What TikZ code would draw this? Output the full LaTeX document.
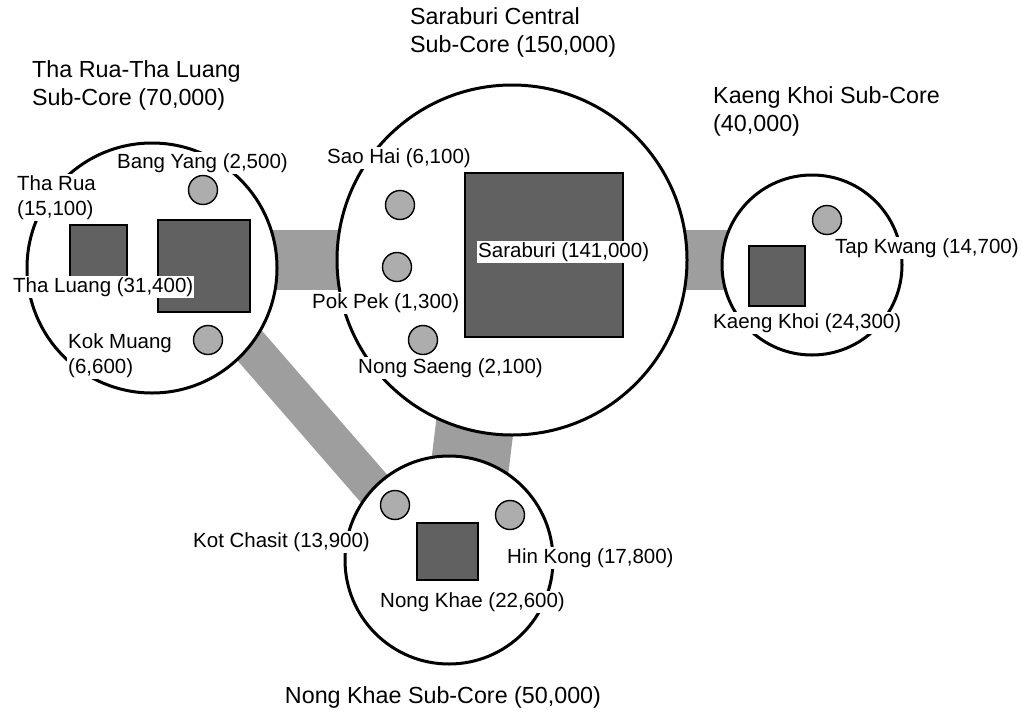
\documentclass[tikz,border=0pt]{standalone}
\usepackage{fontspec}
\setmainfont{Liberation Sans}
\begin{document}
\begin{tikzpicture}[x=1pt,y=-1pt,
  core/.style={circle, draw=black, line width=3pt, fill=white, inner sep=0pt},
  band/.style={draw=black!38, line cap=butt},
  town/.style={circle, draw=black, line width=1.4pt, fill=black!32, minimum size=29pt, inner sep=0pt},
  city/.style={rectangle, draw=black, line width=1.2pt, fill=black!62, inner sep=0pt},
  lbl/.style={font=\fontsize{20.5}{25}\selectfont, fill=white, inner sep=1pt, align=left, anchor=west},
  ttl/.style={font=\fontsize{23.3}{28}\selectfont, inner sep=0pt, align=left, anchor=west},
]
\useasboundingbox[fill=white] (0,0) rectangle (1022,715);

% band end points
\coordinate (lm1) at (250,260);
\coordinate (lm2) at (362,260);
\coordinate (mr1) at (660,260);
\coordinate (mr2) at (752,260);
\coordinate (lb1) at (230,323);
\coordinate (lb2) at (397,515);
\coordinate (mb1) at (478,400);
\coordinate (mb2) at (467,490);

% bands (connectors between sub-cores)
\draw[band, line width=60pt] (lm1) -- (lm2);
\draw[band, line width=60pt] (mr1) -- (mr2);
\draw[band, line width=38pt] (lb1) -- (lb2);
\draw[band, line width=78pt] (mb1) -- (mb2);

% sub-core circles
\node[core, minimum size=250pt] (L) at (152,268) {};
\node[core, minimum size=350pt] (M) at (512,260) {};
\node[core, minimum size=180pt] (R) at (812,265) {};
\node[core, minimum size=208pt] (B) at (449,560) {};

% cities (squares)
\node[city, minimum width=57pt, minimum height=55pt] (tharuaSq) at (98.5,252.5) {};
\node[city, minimum width=92pt, minimum height=92pt] (thaluangSq) at (204,266) {};
\node[city, minimum width=158pt, minimum height=164pt] (saraburiSq) at (544,255) {};
\node[city, minimum width=56pt, minimum height=60pt] (kaengkhoiSq) at (777,276) {};
\node[city, minimum width=61pt, minimum height=57pt] (nongkhaeSq) at (447.5,551.5) {};

% towns (small circles)
\node[town] (bangyang) at (203,190) {};
\node[town] (kokmuang) at (208,340) {};
\node[town] (saohai) at (400,205) {};
\node[town] (pokpek) at (397,267) {};
\node[town] (nongsaeng) at (423,340) {};
\node[town] (tapkwang) at (827,220) {};
\node[town] (kotchasit) at (395,505) {};
\node[town] (hinkong) at (510,515) {};

% labels
\node[lbl] (lBangYang) at (116,163) {Bang Yang (2,500)};
\node[lbl] (lThaRua) at (16,197.5) {Tha Rua\\(15,100)};
\node[lbl] (lThaLuang) at (12,287) {Tha Luang (31,400)};
\node[lbl] (lKokMuang) at (67,355.5) {Kok Muang\\(6,600)};
\node[lbl] (lSaoHai) at (326,158) {Sao Hai (6,100)};
\node[lbl] (lPokPek) at (311,303) {Pok Pek (1,300)};
\node[lbl] (lNongSaeng) at (357,368) {Nong Saeng (2,100)};
\node[lbl] (lSaraburi) at (477,252) {Saraburi (141,000)};
\node[lbl] (lTapKwang) at (834,248) {Tap Kwang (14,700)};
\node[lbl] (lKaengKhoi) at (712,323) {Kaeng Khoi (24,300)};
\node[lbl] (lKotChasit) at (192,542) {Kot Chasit (13,900)};
\node[lbl] (lHinKong) at (506,558) {Hin Kong (17,800)};
\node[lbl] (lNongKhae) at (379,602) {Nong Khae (22,600)};

% sub-core titles
\node[ttl] (tL) at (32,85.5) {Tha Rua-Tha Luang\\Sub-Core (70,000)};
\node[ttl] (tM) at (410,32.5) {Saraburi Central\\Sub-Core (150,000)};
\node[ttl] (tR) at (713,111.5) {Kaeng Khoi Sub-Core\\(40,000)};
\node[ttl, anchor=center] (tB) at (443,697) {Nong Khae Sub-Core (50,000)};
\end{tikzpicture}
\end{document}
